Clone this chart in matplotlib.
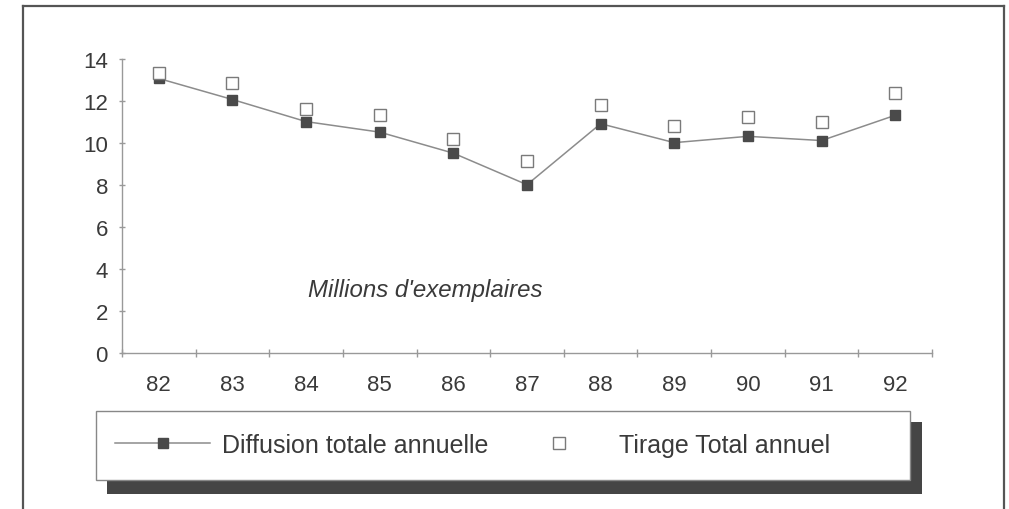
import matplotlib
matplotlib.use("Agg")
import matplotlib.pyplot as plt
from matplotlib.patches import Rectangle
from matplotlib.lines import Line2D

years = ["82", "83", "84", "85", "86", "87", "88", "89", "90", "91", "92"]
diffusion = [13.05, 12.05, 11.0, 10.5, 9.5, 8.0, 10.9, 10.0, 10.3, 10.1, 11.3]
tirage = [13.3, 12.85, 11.6, 11.3, 10.15, 9.15, 11.8, 10.8, 11.2, 11.0, 12.35]
yticks = [0, 2, 4, 6, 8, 10, 12, 14]

W, H = 1009, 510
plt.rcParams['font.family'] = ['Liberation Sans', 'DejaVu Sans']
fig = plt.figure(figsize=(W / 100, H / 100), dpi=100)

def fx(px):
    return px / W

def fy(py):
    return 1 - py / H

# outer frame (left, top, right)
frame_col = '#555555'
fig.add_artist(Line2D([fx(23), fx(23)], [0, fy(7)], color=frame_col, lw=1.6, transform=fig.transFigure))
fig.add_artist(Line2D([fx(23), fx(1004)], [fy(7), fy(7)], color=frame_col, lw=1.6, transform=fig.transFigure))
fig.add_artist(Line2D([fx(1004), fx(1004)], [0, fy(7)], color=frame_col, lw=1.6, transform=fig.transFigure))

ax = fig.add_axes([fx(122), fy(354), fx(932) - fx(122), fy(59.5) - fy(354)])
x = list(range(len(years)))
ax.plot(x, diffusion, color='#8c8c8c', lw=1.1, marker='s', markersize=7.8,
        markerfacecolor='#4a4a4a', markeredgecolor='#4a4a4a', zorder=3,
        label='Diffusion totale annuelle')
ax.plot(x, tirage, linestyle='none', marker='s', markersize=8.8,
        markerfacecolor='white', markeredgecolor='#7a7a7a', markeredgewidth=1.0,
        zorder=4, label='Tirage Total annuel')

ax.set_xlim(-0.5, len(years) - 0.5)
ax.set_ylim(0, 14)
ax.set_yticks(yticks)
ax.set_xticks(x)
ax.set_xticklabels(years)
ax.set_xticks([i - 0.5 for i in range(len(years) + 1)], minor=True)

for s in ['top', 'right']:
    ax.spines[s].set_visible(False)
for s in ['left', 'bottom']:
    ax.spines[s].set_color('#999999')
    ax.spines[s].set_linewidth(1.0)

ax.tick_params(axis='y', direction='inout', length=4.3, width=1.0, color='#999999',
               labelsize=16, labelcolor='#3a3a3a', pad=8)
ax.tick_params(axis='x', which='major', length=0, labelsize=16, labelcolor='#3a3a3a', pad=15)
ax.tick_params(axis='x', which='minor', direction='inout', length=5.5, width=1.0, color='#999999')
ax.set_facecolor('none')

fig.text(fx(308), fy(291), "Millions d'exemplaires", fontsize=17.3, style='italic',
         color='#3a3a3a', va='center', ha='left')

# legend box with shadow
fig.add_artist(Rectangle((fx(107), fy(495)), fx(922) - fx(107), fy(423) - fy(495),
                         transform=fig.transFigure, facecolor='#454545', edgecolor='none', zorder=1))
fig.add_artist(Rectangle((fx(96), fy(481)), fx(910) - fx(96), fy(412) - fy(481),
                         transform=fig.transFigure, facecolor='white', edgecolor='#888888',
                         lw=1.0, zorder=2))

handles, labels = ax.get_legend_handles_labels()
leg = fig.legend(handles, labels, loc='center left', bbox_to_anchor=(fx(115), fy(446)),
                 bbox_transform=fig.transFigure, ncol=2, frameon=False, fontsize=18,
                 handlelength=3.8, handletextpad=0.5, columnspacing=0.9,
                 borderpad=0, borderaxespad=0, labelcolor='#3a3a3a', markerscale=0.9)
leg.set_zorder(5)

fig.savefig('out.png', dpi=100)
